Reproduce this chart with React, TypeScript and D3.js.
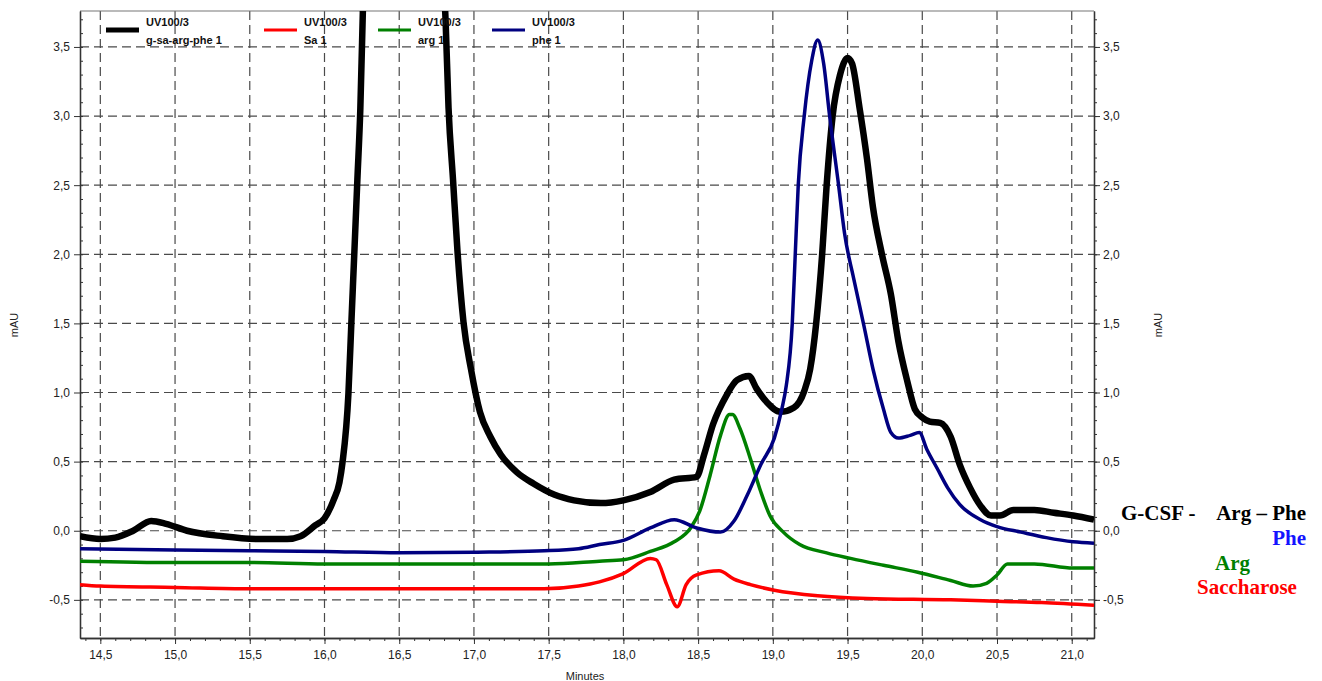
import React, { useEffect, useRef } from "react";
import * as d3 from "d3";

type Pt = [number, number];

// minutes, mAU
const gsaArgPhe: Pt[] = [
  [14.364, -0.04], [14.5, -0.06], [14.6, -0.05], [14.72, 0.0], [14.84, 0.07], [14.94, 0.05],
  [15.08, 0.0], [15.32, -0.04], [15.56, -0.06], [15.75, -0.06], [15.84, -0.04], [15.94, 0.04],
  [16.0, 0.09], [16.06, 0.22], [16.1, 0.35], [16.12, 0.49], [16.16, 0.99], [16.18, 1.51],
  [16.2, 2.02], [16.22, 2.54], [16.24, 3.06], [16.26, 3.9], [16.3, 5.2], [16.4, 6.8],
  [16.5, 7.4], [16.6, 7.0], [16.7, 5.6], [16.78, 4.2], [16.81, 3.7], [16.83, 3.06],
  [16.86, 2.54], [16.89, 2.02], [16.93, 1.51], [16.98, 1.17], [17.04, 0.86], [17.11, 0.68],
  [17.18, 0.55], [17.29, 0.42], [17.4, 0.34], [17.54, 0.26], [17.67, 0.22], [17.85, 0.2],
  [18.0, 0.22], [18.18, 0.28], [18.34, 0.37], [18.49, 0.39], [18.54, 0.55], [18.6, 0.77],
  [18.69, 0.98], [18.76, 1.09], [18.84, 1.12], [18.89, 1.03], [18.96, 0.93], [19.05, 0.86],
  [19.14, 0.89], [19.21, 1.01], [19.25, 1.17], [19.29, 1.5], [19.33, 2.0], [19.36, 2.5],
  [19.4, 3.0], [19.45, 3.3], [19.5, 3.42], [19.53, 3.38], [19.58, 3.06], [19.63, 2.69],
  [19.67, 2.34], [19.73, 2.0], [19.79, 1.71], [19.84, 1.37], [19.9, 1.08], [19.95, 0.88],
  [20.0, 0.82], [20.05, 0.79], [20.12, 0.78], [20.19, 0.68], [20.25, 0.48], [20.32, 0.31],
  [20.39, 0.18], [20.46, 0.11], [20.52, 0.11], [20.61, 0.15], [20.75, 0.15], [20.88, 0.13],
  [21.01, 0.11], [21.149, 0.08],
];

const sa: Pt[] = [
  [14.364, -0.39], [14.5, -0.4], [15.0, -0.41], [15.5, -0.42], [16.0, -0.42], [16.5, -0.42],
  [17.0, -0.42], [17.47, -0.42], [17.7, -0.4], [17.84, -0.37], [18.0, -0.31], [18.18, -0.2],
  [18.22, -0.21], [18.29, -0.39], [18.36, -0.55], [18.42, -0.39], [18.49, -0.32], [18.64, -0.29],
  [18.74, -0.35], [18.85, -0.39], [19.01, -0.43], [19.3, -0.47], [19.63, -0.49], [20.19, -0.5],
  [20.5, -0.51], [20.8, -0.52], [21.149, -0.54],
];

const arg: Pt[] = [
  [14.364, -0.22], [15.0, -0.23], [15.5, -0.23], [16.0, -0.24], [16.5, -0.24], [17.0, -0.24],
  [17.5, -0.24], [17.84, -0.22], [18.0, -0.21], [18.18, -0.15], [18.34, -0.08], [18.45, 0.02],
  [18.51, 0.14], [18.58, 0.4], [18.65, 0.69], [18.71, 0.84], [18.73, 0.84], [18.78, 0.74],
  [18.85, 0.52], [18.92, 0.28], [18.98, 0.11], [19.07, -0.01], [19.18, -0.1], [19.36, -0.16],
  [19.52, -0.2], [19.74, -0.25], [19.97, -0.3], [20.19, -0.36], [20.34, -0.4], [20.43, -0.38],
  [20.5, -0.32], [20.57, -0.24], [20.75, -0.24], [21.01, -0.27], [21.149, -0.27],
];

const phe: Pt[] = [
  [14.364, -0.13], [15.0, -0.14], [15.5, -0.145], [16.0, -0.15], [16.5, -0.16], [17.0, -0.155],
  [17.47, -0.145], [17.7, -0.13], [17.84, -0.1], [18.0, -0.07], [18.18, 0.02], [18.34, 0.08],
  [18.49, 0.02], [18.65, -0.01], [18.74, 0.07], [18.83, 0.26], [18.92, 0.48], [19.01, 0.67],
  [19.06, 0.88], [19.09, 1.05], [19.13, 1.5], [19.15, 2.0], [19.17, 2.5], [19.21, 3.0],
  [19.26, 3.4], [19.3, 3.55], [19.34, 3.38], [19.38, 3.0], [19.44, 2.5], [19.48, 2.15],
  [19.54, 1.83], [19.61, 1.48], [19.67, 1.17], [19.74, 0.88], [19.79, 0.71], [19.84, 0.67],
  [19.92, 0.69], [19.98, 0.71], [20.03, 0.59], [20.1, 0.45], [20.17, 0.31], [20.25, 0.19],
  [20.39, 0.08], [20.5, 0.03], [20.66, -0.01], [20.83, -0.05], [21.01, -0.08], [21.149, -0.09],
];

const seriesNames = ["g-sa-arg-phe 1", "Sa 1", "arg 1", "phe 1"];
const seriesColors = ["#000000", "#ff0000", "#008000", "#000080"];
const seriesData = [gsaArgPhe, sa, arg, phe];

const xTicks = [14.5, 15.0, 15.5, 16.0, 16.5, 17.0, 17.5, 18.0, 18.5, 19.0, 19.5, 20.0, 20.5, 21.0];
const yTicks = [-0.5, 0.0, 0.5, 1.0, 1.5, 2.0, 2.5, 3.0, 3.5];

const annotations = [
  { text: "G-CSF -", color: "#000000" },
  { text: "Arg – Phe", color: "#000000" },
  { text: "Phe", color: "#1414ff" },
  { text: "Arg", color: "#008000" },
  { text: "Saccharose", color: "#ff0000" },
];

const W = 1322, H = 681;
const SANS = "'Liberation Sans', Arial, sans-serif";

const Chromatogram = () => {
  const ref = useRef<SVGSVGElement>(null);

  useEffect(() => {
    const svg = d3.select(ref.current);
    svg.selectAll("*").remove();

    const left = 80, right = 1094, top = 11, bottom = 638;
    const x = d3.scaleLinear().domain([14.364, 21.149]).range([left, right]);
    const y = d3.scaleLinear().domain([-0.776, 3.76]).range([bottom, top]);

    const loc = d3.formatLocale({ decimal: ",", thousands: ".", grouping: [3], currency: ["", ""], minus: "-" });
    const fmt = loc.format(".1f");

    svg.append("clipPath").attr("id", "plot-clip")
      .append("rect").attr("x", left).attr("y", top).attr("width", right - left).attr("height", bottom - top);

    // dashed grid
    const grid = svg.append("g").attr("stroke", "#4a4a4a").attr("stroke-width", 1.2).attr("stroke-dasharray", "9,5");
    grid.selectAll("line.v").data(xTicks).enter().append("line")
      .attr("x1", d => x(d)).attr("x2", d => x(d)).attr("y1", top).attr("y2", bottom);
    grid.selectAll("line.h").data(yTicks).enter().append("line")
      .attr("x1", left).attr("x2", right).attr("y1", d => y(d)).attr("y2", d => y(d));

    // top border
    svg.append("line").attr("x1", left).attr("x2", right).attr("y1", top).attr("y2", top)
      .attr("stroke", "#777").attr("stroke-width", 1.2);

    const minorX = d3.range(144, 212).map(v => v / 10);
    const minorY = d3.range(-7, 38).map(v => v / 10);

    const styleAxis = (g: any) => {
      g.selectAll("path").attr("stroke", "#333").attr("stroke-width", 1.3);
      g.selectAll("line").attr("stroke", "#333");
      g.selectAll("text").attr("font-family", SANS).attr("font-size", 12).attr("fill", "#222");
    };

    svg.append("g").attr("transform", `translate(0,${bottom})`)
      .call(d3.axisBottom(x).tickValues(minorX).tickSize(3).tickFormat(() => "").tickSizeOuter(0)).call(styleAxis);
    svg.append("g").attr("transform", `translate(0,${bottom})`)
      .call(d3.axisBottom(x).tickValues(xTicks).tickSize(6).tickPadding(6).tickFormat(d => fmt(d as number)).tickSizeOuter(0))
      .call(styleAxis);

    svg.append("g").attr("transform", `translate(${left},0)`)
      .call(d3.axisRight(y).tickValues(minorY).tickSize(3).tickFormat(() => "").tickSizeOuter(0)).call(styleAxis);
    svg.append("g").attr("transform", `translate(${left},0)`)
      .call(d3.axisLeft(y).tickValues(yTicks).tickSize(6).tickPadding(4).tickFormat(d => fmt(d as number)).tickSizeOuter(0))
      .call(styleAxis);

    svg.append("g").attr("transform", `translate(${right},0)`)
      .call(d3.axisRight(y).tickValues(minorY).tickSize(3).tickFormat(() => "").tickSizeOuter(0)).call(styleAxis);
    svg.append("g").attr("transform", `translate(${right},0)`)
      .call(d3.axisRight(y).tickValues(yTicks).tickSize(6).tickPadding(3).tickFormat(d => fmt(d as number)).tickSizeOuter(0))
      .call(styleAxis);

    // axis titles
    svg.append("text").attr("x", 585).attr("y", 680).attr("text-anchor", "middle")
      .attr("font-family", SANS).attr("font-size", 11).attr("fill", "#222").text("Minutes");
    [18, 1162].forEach(cx => {
      svg.append("text").attr("transform", `translate(${cx},325) rotate(-90)`).attr("text-anchor", "middle")
        .attr("font-family", SANS).attr("font-size", 11).attr("fill", "#222").text("mAU");
    });

    // traces
    const line = d3.line<Pt>().x(d => x(d[0])).y(d => y(d[1])).curve(d3.curveMonotoneX);
    const traces = svg.append("g").attr("clip-path", "url(#plot-clip)");
    seriesData.forEach((data, i) => {
      traces.append("path").datum(data).attr("d", line)
        .attr("fill", "none").attr("stroke", seriesColors[i])
        .attr("stroke-width", i === 0 ? 6.5 : 3.5).attr("stroke-linejoin", "round");
    });

    // legend
    const legendX = [106, 264, 378, 492];
    seriesNames.forEach((name, i) => {
      const g = svg.append("g").attr("transform", `translate(${legendX[i]},0)`);
      g.append("line").attr("x1", 0).attr("x2", 33).attr("y1", 30).attr("y2", 30)
        .attr("stroke", seriesColors[i]).attr("stroke-width", i === 0 ? 5 : 3);
      g.append("text").attr("x", 40).attr("y", 26).attr("font-family", SANS).attr("font-size", 11)
        .attr("font-weight", "bold").attr("fill", "#111").text("UV100/3");
      g.append("text").attr("x", 40).attr("y", 44).attr("font-family", SANS).attr("font-size", 11)
        .attr("font-weight", "bold").attr("fill", "#111").text(name);
    });

    // annotations on the right
    const annPos = [[1121, 520, "start"], [1306, 520, "end"], [1306, 545, "end"], [1215, 570, "start"], [1197, 594, "start"]];
    annotations.forEach((a, i) => {
      svg.append("text").attr("x", annPos[i][0]).attr("y", annPos[i][1]).attr("text-anchor", annPos[i][2] as string)
        .attr("font-family", "'Liberation Serif', 'Times New Roman', serif").attr("font-weight", "bold")
        .attr("font-size", 21).attr("fill", a.color).text(a.text);
    });
  }, []);

  return <svg ref={ref} width={W} height={H} style={{ position: "absolute", left: 0, top: 0, background: "#fff" }} />;
};

export default function App() {
  return <Chromatogram />;
}
